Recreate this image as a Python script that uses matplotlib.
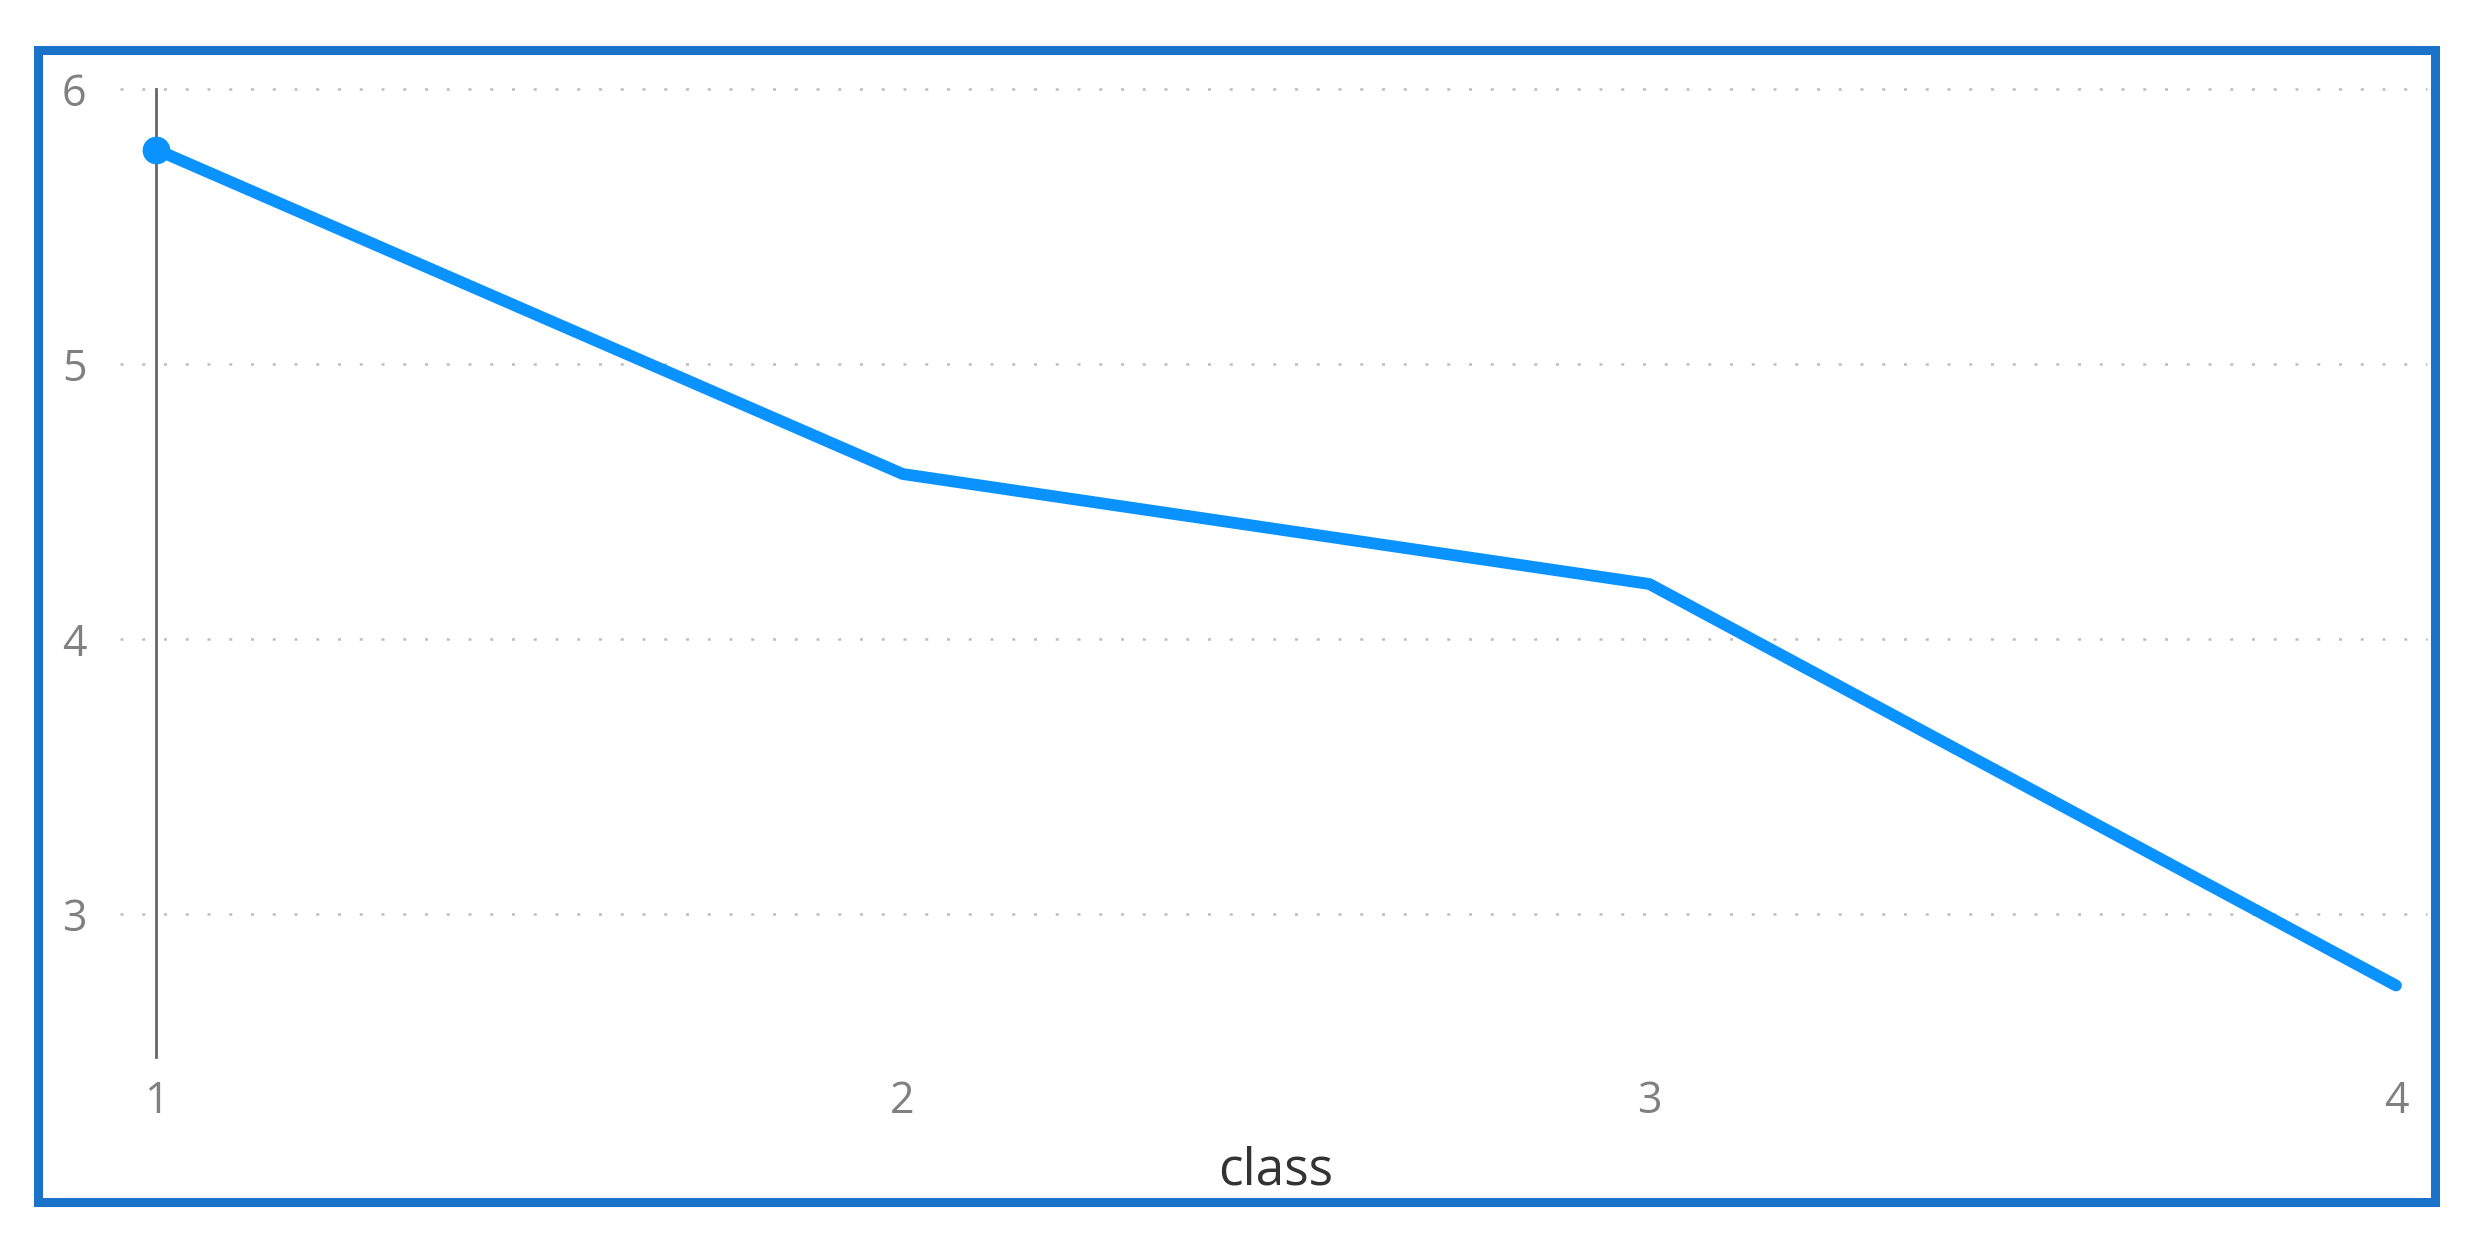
import matplotlib.pyplot as plt
from matplotlib.patches import Rectangle

# dados do gráfico
classes = [1, 2, 3, 4]
valores = [5.78, 4.60, 4.20, 2.74]
ticks_y = [3, 4, 5, 6]

W, H = 2468, 1239
fig = plt.figure(figsize=(W / 100, H / 100), dpi=100)
plt.rcParams['font.family'] = ['Open Sans', 'DejaVu Sans']

# posição do eixo em pixels (esq, dir, topo, base)
x0, x1, y_top, y_bot = 156, 2396, 89, 1057
ax = fig.add_axes([x0 / W, 1 - y_bot / H, (x1 - x0) / W, (y_bot - y_top) / H])

ax.plot(classes, valores, color='#0a93ff', lw=8.5, solid_capstyle='round',
        solid_joinstyle='round', clip_on=False, zorder=3)
ax.plot(classes[0], valores[0], 'o', color='#0a93ff', ms=19, clip_on=False, zorder=4)

ax.set_xlim(1, 4)
ax.set_ylim(2.48, 6)
ax.set_xticks(classes)
ax.set_yticks(ticks_y)

# linhas de grade pontilhadas, um pouco além do eixo
ax.hlines(ticks_y, -0.016, 1.014, transform=ax.get_yaxis_transform(),
          colors='#bdbdbd', lw=1.8, linestyles=(0, (1.2, 7.5)), clip_on=False, zorder=1)

for lado in ['top', 'right', 'bottom']:
    ax.spines[lado].set_visible(False)
ax.spines['left'].set_color('#666666')
ax.spines['left'].set_linewidth(2)

ax.tick_params(axis='both', length=0, labelsize=31, labelcolor='#808080')
ax.tick_params(axis='y', pad=50)
ax.tick_params(axis='x', pad=16)
ax.set_xlabel('class', fontsize=37, color='#333333', labelpad=16)

# moldura azul
fig.patches.append(Rectangle((37.5 / W, 1 - 1201.5 / H), (2434.5 - 37.5) / W, (1201.5 - 49.5) / H,
                             transform=fig.transFigure, fill=False, edgecolor='#1a73c8', lw=6.5))

fig.savefig('out.png', dpi=100)
